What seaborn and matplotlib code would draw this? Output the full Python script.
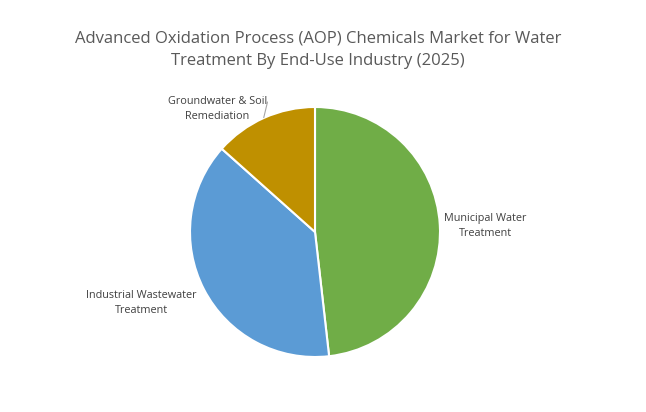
import numpy as np
import pandas as pd
import matplotlib
matplotlib.use("Agg")
import matplotlib.pyplot as plt
import seaborn as sns

# data (share of market, %)
segments = ['Municipal Water\nTreatment', 'Industrial Wastewater\nTreatment', 'Groundwater & Soil\nRemediation']
shares = [48.2, 38.4, 13.4]
colors = ['#70AD47', '#5B9BD5', '#BF9000']

df = pd.DataFrame({'segment': segments, 'share': shares})

sns.set_theme(style='white')
plt.rcParams['font.family'] = ['Open Sans', 'DejaVu Sans']

fig = plt.figure(figsize=(6.46, 4.12), dpi=100)
ax = fig.add_axes([190 / 646, 55 / 412, 250 / 646, 250 / 412])

wedges, _ = ax.pie(df['share'], colors=colors, startangle=90, counterclock=False,
                   radius=1.0, wedgeprops=dict(edgecolor='white', linewidth=1.5))
ax.set_xlim(-1, 1)
ax.set_ylim(-1, 1)
ax.set_aspect('equal')
ax.axis('off')

txt = dict(ha='center', va='center', fontsize=7.8, color='#404040', linespacing=1.5)
ax.text(1.36, 0.045, 'Municipal Water\nTreatment', **txt)
ax.text(-1.39, -0.565, 'Industrial Wastewater\nTreatment', **txt)
ax.text(-0.78, 0.985, 'Groundwater & Soil\nRemediation', **txt)

# leader line for the small slice
ax.plot([-0.38, -0.41], [1.04, 0.915], color='#A6A6A6', linewidth=0.8, clip_on=False)

fig.suptitle('Advanced Oxidation Process (AOP) Chemicals Market for Water\nTreatment By End-Use Industry (2025)',
             x=0.492, y=0.925, fontsize=12, color='#595959', linespacing=1.5)

fig.savefig('out.png', dpi=100, facecolor='white')
